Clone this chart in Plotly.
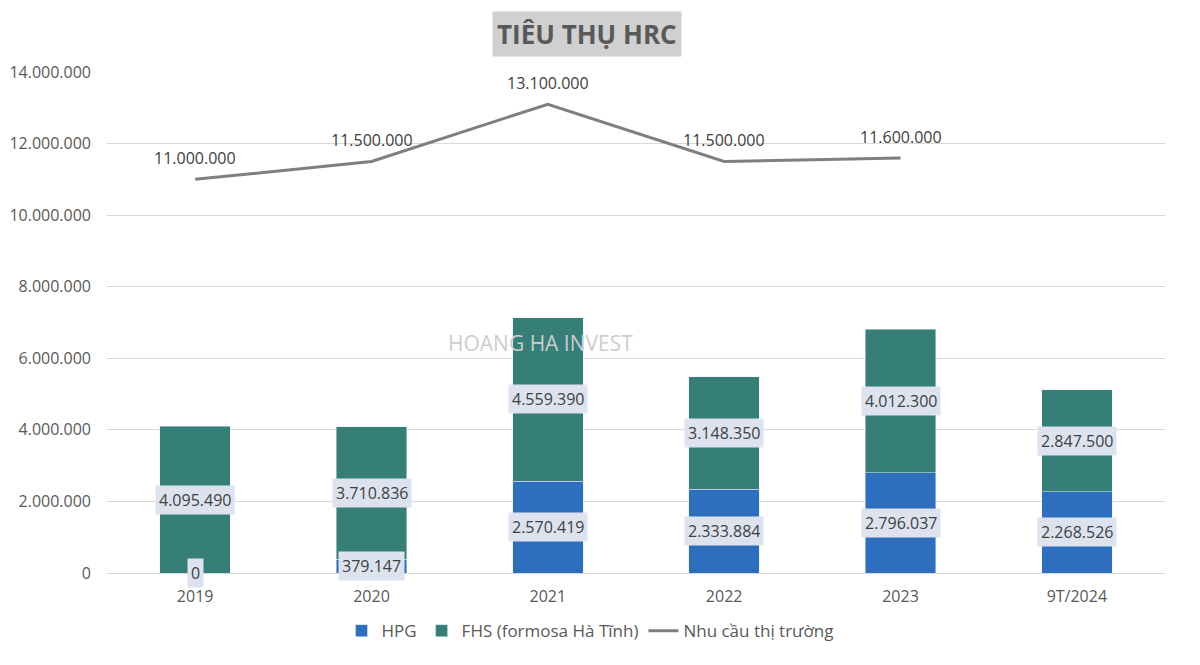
import plotly.graph_objects as go

categories = ["2019", "2020", "2021", "2022", "2023", "9T/2024"]
hpg = [0, 379147, 2570419, 2333884, 2796037, 2268526]
fhs = [4095490, 3710836, 4559390, 3148350, 4012300, 2847500]
demand = [11000000, 11500000, 13100000, 11500000, 11600000, None]
y_ticks = [0, 2000000, 4000000, 6000000, 8000000, 10000000, 12000000, 14000000]

FONT = "Open Sans"
TXT = "#595959"
HPG_C = "#2E6EBF"
FHS_C = "#367E78"
LINE_C = "#7F7F7F"
LBL_BG = "#DCE3EF"


def fmt(v):
    return f"{v:,}".replace(",", ".")


fig = go.Figure()
fig.add_trace(go.Bar(name="HPG", x=categories, y=hpg, marker_color=HPG_C, width=0.4))
fig.add_trace(go.Bar(name="FHS (formosa Hà Tĩnh)", x=categories, y=fhs, marker_color=FHS_C, width=0.4))
fig.add_trace(go.Scatter(name="Nhu cầu thị trường", x=categories, y=demand, mode="lines",
                         line=dict(color=LINE_C, width=3)))

ann = []
for i, (h, f) in enumerate(zip(hpg, fhs)):
    ann.append(dict(x=i, y=h / 2, text=fmt(h), showarrow=False, bgcolor=LBL_BG,
                    font=dict(family=FONT, size=16, color="#404040"), borderpad=3))
    ann.append(dict(x=i, y=h + f / 2, text=fmt(f), showarrow=False, bgcolor=LBL_BG,
                    font=dict(family=FONT, size=16, color="#404040"), borderpad=3))
for i, d in enumerate(demand):
    if d is not None:
        ann.append(dict(x=i, y=d, text=fmt(d), showarrow=False, yshift=21,
                        font=dict(family=FONT, size=16, color="#404040")))

ann.append(dict(xref="paper", yref="paper", x=0.410, y=0.459, text="HOANG HA INVEST",
                showarrow=False, font=dict(family=FONT, size=21, color="#CDCDCD")))
ann.append(dict(xref="paper", yref="paper", x=0.4537, y=1.0, yshift=38, yanchor="middle",
                text="<b>TIÊU THỤ HRC</b>", showarrow=False, bgcolor="#D0D0D0", borderpad=4,
                font=dict(family=FONT, size=26, color=TXT)))

fig.update_layout(
    barmode="stack",
    width=1200, height=665,
    margin=dict(l=99, r=43, t=64, b=100, autoexpand=False),
    paper_bgcolor="white", plot_bgcolor="white",
    font=dict(family=FONT, size=16, color=TXT),
    annotations=ann,
    showlegend=True,
    legend=dict(orientation="h", x=0.4565, xanchor="center", y=-0.116, yanchor="middle",
                font=dict(family=FONT, size=17, color=TXT), traceorder="normal"),
    bargap=0.6,
)
fig.update_yaxes(range=[0, 14000000], tickvals=y_ticks, ticktext=[fmt(v) for v in y_ticks],
                 showgrid=True, gridcolor="#D9D9D9", gridwidth=1, zeroline=False,
                 showline=False, ticks="", ticklabelstandoff=15, automargin=False,
                 tickfont=dict(family=FONT, size=16, color=TXT))
fig.update_xaxes(type="category", range=[-0.5, 5.5], showline=True, linecolor="#D9D9D9",
                 linewidth=1, ticks="", ticklabelstandoff=9, automargin=False,
                 tickfont=dict(family=FONT, size=16, color=TXT))

fig.write_html("out.html")
